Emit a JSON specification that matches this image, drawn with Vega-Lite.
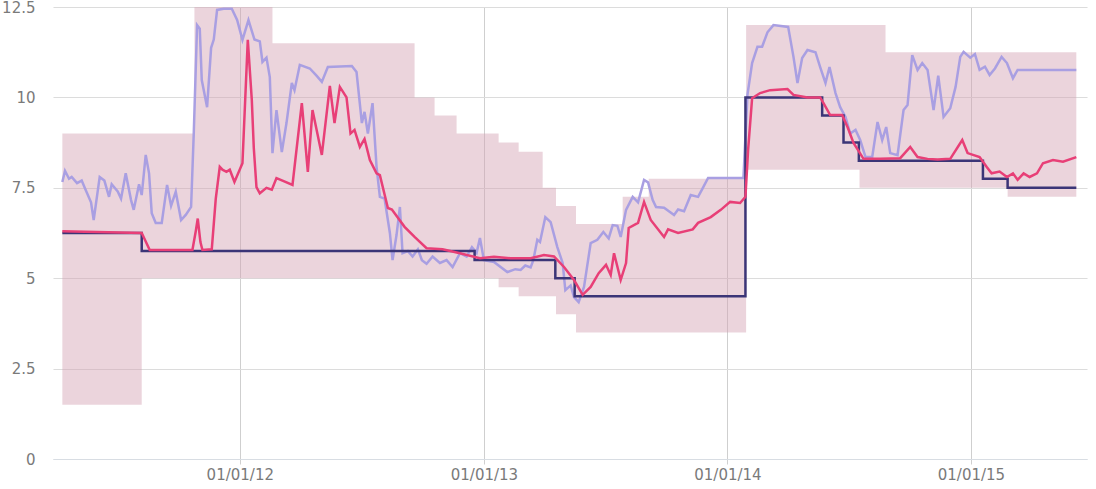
{
  "$schema": "https://vega.github.io/schema/vega-lite/v6.json",
  "width": 1034,
  "height": 452,
  "autosize": {"type": "none"},
  "padding": {"left": 53, "top": 7, "right": 9, "bottom": 30},
  "background": "white",
  "config": {"view": {"stroke": null}},
  "datasets": {
    "band": [
      {"date": "2011-04-10", "lo": 1.5, "hi": 9.0},
      {"date": "2011-08-07", "lo": 5.0, "hi": 9.0},
      {"date": "2011-10-25", "lo": 5.0, "hi": 12.5},
      {"date": "2012-02-19", "lo": 5.0, "hi": 11.5},
      {"date": "2012-09-19", "lo": 5.0, "hi": 10.0},
      {"date": "2012-10-19", "lo": 5.0, "hi": 9.5},
      {"date": "2012-11-21", "lo": 5.0, "hi": 9.0},
      {"date": "2013-01-23", "lo": 4.75, "hi": 8.75},
      {"date": "2013-02-22", "lo": 4.5, "hi": 8.5},
      {"date": "2013-03-30", "lo": 4.5, "hi": 7.5},
      {"date": "2013-04-19", "lo": 4.0, "hi": 7.0},
      {"date": "2013-05-19", "lo": 3.5, "hi": 6.5},
      {"date": "2013-07-28", "lo": 3.5, "hi": 7.25},
      {"date": "2013-09-05", "lo": 3.5, "hi": 7.75},
      {"date": "2014-01-29", "lo": 8.0, "hi": 12.0},
      {"date": "2014-07-18", "lo": 7.5, "hi": 12.0},
      {"date": "2014-08-26", "lo": 7.5, "hi": 11.25},
      {"date": "2015-02-25", "lo": 7.25, "hi": 11.25},
      {"date": "2015-06-08", "lo": 7.25, "hi": 11.25}
    ],
    "dark": [
      {"date": "2011-04-10", "value": 6.25},
      {"date": "2011-08-07", "value": 5.75},
      {"date": "2012-12-18", "value": 5.5},
      {"date": "2013-04-18", "value": 5.0},
      {"date": "2013-05-17", "value": 4.5},
      {"date": "2014-01-28", "value": 10.0},
      {"date": "2014-05-23", "value": 9.5},
      {"date": "2014-06-24", "value": 8.75},
      {"date": "2014-07-17", "value": 8.25},
      {"date": "2015-01-19", "value": 7.75},
      {"date": "2015-02-25", "value": 7.5},
      {"date": "2015-06-08", "value": 7.5}
    ],
    "pink": [
      {"date": "2011-04-10", "value": 6.3},
      {"date": "2011-08-07", "value": 6.25},
      {"date": "2011-08-19", "value": 5.78},
      {"date": "2011-10-22", "value": 5.78},
      {"date": "2011-10-27", "value": 6.3},
      {"date": "2011-10-30", "value": 6.65},
      {"date": "2011-11-03", "value": 6.0},
      {"date": "2011-11-06", "value": 5.78},
      {"date": "2011-11-20", "value": 5.8},
      {"date": "2011-11-26", "value": 7.2},
      {"date": "2011-12-02", "value": 8.08},
      {"date": "2011-12-06", "value": 8.0},
      {"date": "2011-12-12", "value": 7.94},
      {"date": "2011-12-17", "value": 8.0},
      {"date": "2011-12-24", "value": 7.66},
      {"date": "2012-01-05", "value": 8.18},
      {"date": "2012-01-13", "value": 11.59},
      {"date": "2012-01-19", "value": 9.93},
      {"date": "2012-01-22", "value": 8.6},
      {"date": "2012-01-26", "value": 7.52},
      {"date": "2012-01-31", "value": 7.35},
      {"date": "2012-02-10", "value": 7.5},
      {"date": "2012-02-18", "value": 7.45},
      {"date": "2012-02-25", "value": 7.77},
      {"date": "2012-03-05", "value": 7.7},
      {"date": "2012-03-20", "value": 7.58},
      {"date": "2012-04-03", "value": 9.84},
      {"date": "2012-04-12", "value": 7.94},
      {"date": "2012-04-19", "value": 9.65},
      {"date": "2012-05-03", "value": 8.41},
      {"date": "2012-05-15", "value": 10.32},
      {"date": "2012-05-22", "value": 9.29},
      {"date": "2012-05-30", "value": 10.29},
      {"date": "2012-06-09", "value": 10.0},
      {"date": "2012-06-15", "value": 9.0},
      {"date": "2012-06-21", "value": 9.1},
      {"date": "2012-06-29", "value": 8.63},
      {"date": "2012-07-06", "value": 8.85},
      {"date": "2012-07-14", "value": 8.27},
      {"date": "2012-07-24", "value": 7.9},
      {"date": "2012-07-29", "value": 7.85},
      {"date": "2012-08-10", "value": 6.94},
      {"date": "2012-08-16", "value": 6.9},
      {"date": "2012-09-04", "value": 6.42},
      {"date": "2012-09-19", "value": 6.14},
      {"date": "2012-10-07", "value": 5.83},
      {"date": "2012-10-31", "value": 5.8},
      {"date": "2012-11-26", "value": 5.69},
      {"date": "2012-12-26", "value": 5.55},
      {"date": "2013-01-16", "value": 5.59},
      {"date": "2013-02-10", "value": 5.55},
      {"date": "2013-03-12", "value": 5.55},
      {"date": "2013-04-01", "value": 5.64},
      {"date": "2013-04-16", "value": 5.6},
      {"date": "2013-05-01", "value": 5.31},
      {"date": "2013-05-16", "value": 4.95},
      {"date": "2013-05-29", "value": 4.54},
      {"date": "2013-06-10", "value": 4.76},
      {"date": "2013-06-22", "value": 5.14},
      {"date": "2013-07-03", "value": 5.37},
      {"date": "2013-07-10", "value": 5.09},
      {"date": "2013-07-15", "value": 5.69},
      {"date": "2013-07-25", "value": 4.95},
      {"date": "2013-08-02", "value": 5.42},
      {"date": "2013-08-06", "value": 6.39},
      {"date": "2013-08-20", "value": 6.53},
      {"date": "2013-08-29", "value": 7.11},
      {"date": "2013-09-08", "value": 6.61},
      {"date": "2013-09-28", "value": 6.14},
      {"date": "2013-10-04", "value": 6.35},
      {"date": "2013-10-19", "value": 6.25},
      {"date": "2013-11-10", "value": 6.35},
      {"date": "2013-11-18", "value": 6.53},
      {"date": "2013-12-07", "value": 6.69},
      {"date": "2013-12-22", "value": 6.89},
      {"date": "2014-01-05", "value": 7.11},
      {"date": "2014-01-20", "value": 7.08},
      {"date": "2014-01-28", "value": 7.25},
      {"date": "2014-02-01", "value": 8.55},
      {"date": "2014-02-07", "value": 9.98},
      {"date": "2014-02-19", "value": 10.12},
      {"date": "2014-03-06", "value": 10.2},
      {"date": "2014-04-01", "value": 10.23},
      {"date": "2014-04-10", "value": 10.07},
      {"date": "2014-05-01", "value": 10.0},
      {"date": "2014-05-20", "value": 10.0},
      {"date": "2014-05-25", "value": 9.84},
      {"date": "2014-06-04", "value": 9.51},
      {"date": "2014-06-22", "value": 9.51},
      {"date": "2014-06-30", "value": 9.18},
      {"date": "2014-07-09", "value": 8.74},
      {"date": "2014-07-24", "value": 8.3},
      {"date": "2014-08-18", "value": 8.3},
      {"date": "2014-09-17", "value": 8.32},
      {"date": "2014-10-02", "value": 8.63},
      {"date": "2014-10-13", "value": 8.35},
      {"date": "2014-10-28", "value": 8.3},
      {"date": "2014-11-12", "value": 8.28},
      {"date": "2014-12-01", "value": 8.3},
      {"date": "2014-12-19", "value": 8.82},
      {"date": "2014-12-27", "value": 8.46},
      {"date": "2015-01-14", "value": 8.35},
      {"date": "2015-01-25", "value": 8.07},
      {"date": "2015-02-01", "value": 7.9},
      {"date": "2015-02-13", "value": 7.95},
      {"date": "2015-02-24", "value": 7.8},
      {"date": "2015-03-05", "value": 7.9},
      {"date": "2015-03-12", "value": 7.72},
      {"date": "2015-03-21", "value": 7.9},
      {"date": "2015-03-30", "value": 7.8},
      {"date": "2015-04-10", "value": 7.9},
      {"date": "2015-04-19", "value": 8.18},
      {"date": "2015-05-04", "value": 8.27},
      {"date": "2015-05-19", "value": 8.22},
      {"date": "2015-06-08", "value": 8.35}
    ],
    "purple": [
      {"date": "2011-04-10", "value": 7.66},
      {"date": "2011-04-14", "value": 7.97},
      {"date": "2011-04-20", "value": 7.75},
      {"date": "2011-04-24", "value": 7.8},
      {"date": "2011-05-02", "value": 7.63},
      {"date": "2011-05-09", "value": 7.7},
      {"date": "2011-05-15", "value": 7.44},
      {"date": "2011-05-23", "value": 7.1},
      {"date": "2011-05-27", "value": 6.61},
      {"date": "2011-06-05", "value": 7.8},
      {"date": "2011-06-12", "value": 7.7},
      {"date": "2011-06-19", "value": 7.25},
      {"date": "2011-06-23", "value": 7.6},
      {"date": "2011-07-02", "value": 7.4},
      {"date": "2011-07-07", "value": 7.2},
      {"date": "2011-07-14", "value": 7.9},
      {"date": "2011-07-22", "value": 7.16},
      {"date": "2011-07-26", "value": 6.89},
      {"date": "2011-08-03", "value": 7.6},
      {"date": "2011-08-07", "value": 7.3},
      {"date": "2011-08-13", "value": 8.41},
      {"date": "2011-08-18", "value": 7.9},
      {"date": "2011-08-22", "value": 6.8},
      {"date": "2011-08-28", "value": 6.53},
      {"date": "2011-09-06", "value": 6.53},
      {"date": "2011-09-14", "value": 7.58},
      {"date": "2011-09-20", "value": 7.0},
      {"date": "2011-09-27", "value": 7.39},
      {"date": "2011-10-05", "value": 6.61},
      {"date": "2011-10-12", "value": 6.75},
      {"date": "2011-10-20", "value": 6.97},
      {"date": "2011-10-24", "value": 9.0},
      {"date": "2011-10-29", "value": 12.0},
      {"date": "2011-11-02", "value": 11.9},
      {"date": "2011-11-05", "value": 10.48},
      {"date": "2011-11-13", "value": 9.73},
      {"date": "2011-11-19", "value": 11.37},
      {"date": "2011-11-23", "value": 11.6},
      {"date": "2011-11-28", "value": 12.42},
      {"date": "2011-12-08", "value": 12.45},
      {"date": "2011-12-20", "value": 12.45},
      {"date": "2011-12-28", "value": 12.14},
      {"date": "2012-01-05", "value": 11.59},
      {"date": "2012-01-14", "value": 12.14},
      {"date": "2012-01-23", "value": 11.6},
      {"date": "2012-01-31", "value": 11.55},
      {"date": "2012-02-04", "value": 10.98},
      {"date": "2012-02-10", "value": 11.1},
      {"date": "2012-02-15", "value": 10.56},
      {"date": "2012-02-19", "value": 8.46},
      {"date": "2012-02-25", "value": 9.65},
      {"date": "2012-03-04", "value": 8.49},
      {"date": "2012-03-11", "value": 9.29},
      {"date": "2012-03-19", "value": 10.4},
      {"date": "2012-03-23", "value": 10.2},
      {"date": "2012-03-31", "value": 10.9},
      {"date": "2012-04-15", "value": 10.8},
      {"date": "2012-04-25", "value": 10.6},
      {"date": "2012-05-03", "value": 10.43},
      {"date": "2012-05-12", "value": 10.84},
      {"date": "2012-06-17", "value": 10.87},
      {"date": "2012-06-24", "value": 10.7},
      {"date": "2012-07-02", "value": 9.29},
      {"date": "2012-07-06", "value": 9.6},
      {"date": "2012-07-11", "value": 9.0},
      {"date": "2012-07-18", "value": 9.84},
      {"date": "2012-07-24", "value": 8.08},
      {"date": "2012-07-29", "value": 7.25},
      {"date": "2012-08-05", "value": 7.2},
      {"date": "2012-08-13", "value": 6.25},
      {"date": "2012-08-17", "value": 5.5},
      {"date": "2012-08-23", "value": 6.2},
      {"date": "2012-08-28", "value": 6.97},
      {"date": "2012-09-01", "value": 5.69},
      {"date": "2012-09-09", "value": 5.75},
      {"date": "2012-09-16", "value": 5.6},
      {"date": "2012-09-24", "value": 5.8},
      {"date": "2012-09-30", "value": 5.5},
      {"date": "2012-10-07", "value": 5.4},
      {"date": "2012-10-16", "value": 5.6},
      {"date": "2012-10-27", "value": 5.42},
      {"date": "2012-11-06", "value": 5.5},
      {"date": "2012-11-15", "value": 5.31},
      {"date": "2012-11-26", "value": 5.69},
      {"date": "2012-12-06", "value": 5.6},
      {"date": "2012-12-14", "value": 5.86},
      {"date": "2012-12-21", "value": 5.7},
      {"date": "2012-12-26", "value": 6.11},
      {"date": "2013-01-01", "value": 5.5},
      {"date": "2013-01-16", "value": 5.45},
      {"date": "2013-02-05", "value": 5.17},
      {"date": "2013-02-17", "value": 5.25},
      {"date": "2013-02-25", "value": 5.23},
      {"date": "2013-03-04", "value": 5.35},
      {"date": "2013-03-12", "value": 5.3},
      {"date": "2013-03-16", "value": 5.5},
      {"date": "2013-03-22", "value": 6.06},
      {"date": "2013-03-26", "value": 6.0},
      {"date": "2013-04-03", "value": 6.69},
      {"date": "2013-04-11", "value": 6.55},
      {"date": "2013-04-21", "value": 5.86},
      {"date": "2013-04-29", "value": 5.42},
      {"date": "2013-05-03", "value": 4.67},
      {"date": "2013-05-11", "value": 4.8},
      {"date": "2013-05-16", "value": 4.48},
      {"date": "2013-05-23", "value": 4.34},
      {"date": "2013-05-31", "value": 4.76},
      {"date": "2013-06-10", "value": 5.97},
      {"date": "2013-06-20", "value": 6.06},
      {"date": "2013-06-29", "value": 6.28},
      {"date": "2013-07-07", "value": 6.1},
      {"date": "2013-07-13", "value": 6.47},
      {"date": "2013-07-20", "value": 6.45},
      {"date": "2013-07-25", "value": 6.14},
      {"date": "2013-08-02", "value": 6.89},
      {"date": "2013-08-12", "value": 7.25},
      {"date": "2013-08-20", "value": 7.1},
      {"date": "2013-08-29", "value": 7.72},
      {"date": "2013-09-04", "value": 7.65},
      {"date": "2013-09-11", "value": 7.16},
      {"date": "2013-09-16", "value": 6.97},
      {"date": "2013-09-28", "value": 6.95},
      {"date": "2013-10-13", "value": 6.75},
      {"date": "2013-10-19", "value": 6.9},
      {"date": "2013-10-28", "value": 6.85},
      {"date": "2013-11-07", "value": 7.3},
      {"date": "2013-11-18", "value": 7.25},
      {"date": "2013-11-25", "value": 7.49},
      {"date": "2013-12-03", "value": 7.77},
      {"date": "2014-01-25", "value": 7.77},
      {"date": "2014-01-31", "value": 10.07},
      {"date": "2014-02-07", "value": 10.95},
      {"date": "2014-02-15", "value": 11.4},
      {"date": "2014-02-22", "value": 11.4},
      {"date": "2014-03-02", "value": 11.8},
      {"date": "2014-03-11", "value": 12.0},
      {"date": "2014-04-02", "value": 11.95},
      {"date": "2014-04-10", "value": 11.12},
      {"date": "2014-04-16", "value": 10.4},
      {"date": "2014-04-23", "value": 11.09},
      {"date": "2014-05-01", "value": 11.31},
      {"date": "2014-05-13", "value": 11.25},
      {"date": "2014-05-20", "value": 10.84},
      {"date": "2014-05-28", "value": 10.4},
      {"date": "2014-06-03", "value": 10.84},
      {"date": "2014-06-12", "value": 10.12},
      {"date": "2014-06-19", "value": 9.73},
      {"date": "2014-06-27", "value": 9.46},
      {"date": "2014-07-04", "value": 9.0},
      {"date": "2014-07-12", "value": 9.1},
      {"date": "2014-07-19", "value": 8.82},
      {"date": "2014-07-27", "value": 8.35},
      {"date": "2014-08-06", "value": 8.35},
      {"date": "2014-08-14", "value": 9.32},
      {"date": "2014-08-21", "value": 8.82},
      {"date": "2014-08-27", "value": 9.18},
      {"date": "2014-09-02", "value": 8.46},
      {"date": "2014-09-13", "value": 8.4},
      {"date": "2014-09-22", "value": 9.65},
      {"date": "2014-09-28", "value": 9.79},
      {"date": "2014-10-05", "value": 11.17},
      {"date": "2014-10-13", "value": 10.76},
      {"date": "2014-10-20", "value": 10.95},
      {"date": "2014-10-28", "value": 10.76},
      {"date": "2014-11-06", "value": 9.65},
      {"date": "2014-11-13", "value": 10.6},
      {"date": "2014-11-21", "value": 9.46},
      {"date": "2014-12-01", "value": 9.7},
      {"date": "2014-12-09", "value": 10.29},
      {"date": "2014-12-16", "value": 11.12},
      {"date": "2014-12-21", "value": 11.26},
      {"date": "2014-12-31", "value": 11.1},
      {"date": "2015-01-07", "value": 11.2},
      {"date": "2015-01-14", "value": 10.76},
      {"date": "2015-01-22", "value": 10.85},
      {"date": "2015-01-29", "value": 10.62},
      {"date": "2015-02-06", "value": 10.8},
      {"date": "2015-02-16", "value": 11.12},
      {"date": "2015-02-24", "value": 10.95},
      {"date": "2015-03-05", "value": 10.53},
      {"date": "2015-03-12", "value": 10.76},
      {"date": "2015-06-08", "value": 10.76}
    ]
  },
  "encoding": {
    "x": {
      "field": "date",
      "type": "temporal",
      "scale": {
        "type": "utc",
        "domain": [
          {"year": 2011, "month": 3, "date": 27, "utc": true},
          {"year": 2015, "month": 6, "date": 24, "utc": true}
        ]
      },
      "axis": {
        "title": null,
        "format": "%d/%m/%y",
        "values": [
          {"year": 2012, "month": 1, "date": 1, "utc": true},
          {"year": 2013, "month": 1, "date": 1, "utc": true},
          {"year": 2014, "month": 1, "date": 1, "utc": true},
          {"year": 2015, "month": 1, "date": 1, "utc": true}
        ],
        "domain": true,
        "domainColor": "#d8dde3",
        "domainWidth": 1,
        "grid": true,
        "gridColor": "#cfcfcf",
        "gridWidth": 1,
        "ticks": true,
        "tickSize": 5,
        "tickColor": "#d0d0d0",
        "labelFont": "DejaVu Sans",
        "labelFontSize": 15,
        "labelColor": "#7a7a7a",
        "labelPadding": 3
      }
    },
    "y": {
      "type": "quantitative",
      "scale": {"domain": [0, 12.5], "nice": false, "zero": true},
      "axis": {
        "title": null,
        "values": [0, 2.5, 5, 7.5, 10, 12.5],
        "format": ".3~g",
        "domain": false,
        "ticks": false,
        "grid": true,
        "gridColor": "#dcdcdc",
        "gridWidth": 1.2,
        "labelFont": "DejaVu Sans",
        "labelFontSize": 15,
        "labelColor": "#7a7a7a",
        "labelPadding": 18
      }
    }
  },
  "layer": [
    {
      "data": {"name": "band"},
      "mark": {"type": "area", "interpolate": "step-after", "color": "#d29fb1", "opacity": 0.45},
      "encoding": {
        "y": {"field": "lo", "type": "quantitative"},
        "y2": {"field": "hi"}
      }
    },
    {
      "data": {"name": "purple"},
      "mark": {"type": "line", "color": "#a99fe2", "strokeWidth": 2.5},
      "encoding": {"y": {"field": "value", "type": "quantitative"}}
    },
    {
      "data": {"name": "dark"},
      "mark": {"type": "line", "interpolate": "step-after", "color": "#3b3577", "strokeWidth": 2.5},
      "encoding": {"y": {"field": "value", "type": "quantitative"}}
    },
    {
      "data": {"name": "pink"},
      "mark": {"type": "line", "color": "#e83f77", "strokeWidth": 2.5},
      "encoding": {"y": {"field": "value", "type": "quantitative"}}
    }
  ]
}
